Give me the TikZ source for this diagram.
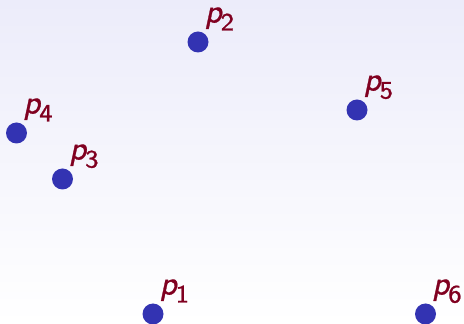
\documentclass[tikz,border=0pt]{standalone}
\usepackage{fontspec}
\newfontface\pfont{lmsans10-oblique.otf}[FakeBold=0.9]
\newfontface\sfont{lmsans8-regular.otf}[FakeBold=0.9]
\definecolor{dotblue}{RGB}{51,51,178}
\definecolor{lblred}{RGB}{128,0,32}
\definecolor{bgtop}{RGB}{236,236,250}
\tikzset{
  pt/.style={circle,fill=dotblue,inner sep=0pt,minimum size=21pt},
  lbl/.style={text=lblred,inner sep=0pt,anchor=base west}
}
\newcommand{\plabel}[1]{\fontsize{33}{33}\pfont p\kern-1pt\raisebox{-8pt}{\fontsize{25}{25}\sfont #1}}
\begin{document}
\begin{tikzpicture}[x=1pt,y=1pt]
\shade[top color=bgtop,bottom color=white] (0,0) rectangle (464,324);
\useasboundingbox (0,0) rectangle (464,324);
\node[pt] (p1) at (153,10) {};
\node[pt] (p2) at (198,282) {};
\node[pt] (p3) at (62.5,145) {};
\node[pt] (p4) at (16.5,191) {};
\node[pt] (p5) at (357,214) {};
\node[pt] (p6) at (425.5,10) {};
\node[lbl] (l1) at ([shift={(6.5,19.5)}]p1.center) {\plabel{1}};
\node[lbl] (l2) at ([shift={(6.5,19.5)}]p2.center) {\plabel{2}};
\node[lbl] (l3) at ([shift={(6.5,19.5)}]p3.center) {\plabel{3}};
\node[lbl] (l4) at ([shift={(6.5,19.5)}]p4.center) {\plabel{4}};
\node[lbl] (l5) at ([shift={(6.5,19.5)}]p5.center) {\plabel{5}};
\node[lbl] (l6) at ([shift={(6.5,19.5)}]p6.center) {\plabel{6}};
\end{tikzpicture}
\end{document}
